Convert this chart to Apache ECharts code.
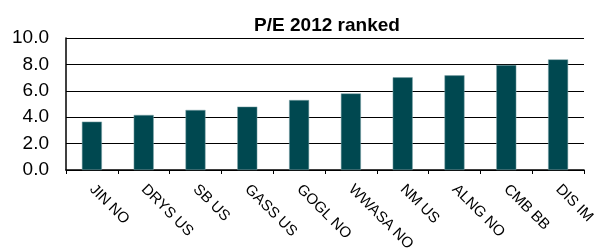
<!DOCTYPE html>
<html>
<head>
<meta charset="utf-8">
<script src="https://cdn.jsdelivr.net/npm/echarts@6/dist/echarts.min.js"></script>
<style>
  html, body { margin: 0; padding: 0; background: #fff; }
  #chart { width: 596px; height: 248px; }
</style>
</head>
<body>
<div id="chart"></div>
<script>
'use strict'

const categories = ['JIN NO', 'DRYS US', 'SB US', 'GASS US', 'GOGL NO', 'WWASA NO', 'NM US', 'ALNG NO', 'CMB BB', 'DIS IM']
const peValues = [3.66, 4.17, 4.55, 4.8, 5.3, 5.8, 7.02, 7.17, 7.95, 8.38]

const chart = echarts.init(document.getElementById('chart'))

const option = {
  animation: false,
  title: {
    text: 'P/E 2012 ranked',
    left: 322,
    top: 11,
    textAlign: 'center',
    textStyle: {
      fontFamily: 'Liberation Sans',
      fontSize: 19,
      fontWeight: 'bold',
      color: '#000'
    }
  },
  // labels run off the bottom edge in the original, so don't let the grid shrink
  grid: { left: 66, right: 12, top: 38, bottom: 78, outerBoundsMode: 'none' },
  xAxis: {
    type: 'category',
    data: categories,
    axisLine: { lineStyle: { color: '#000', width: 1.5 } },
    axisTick: { show: true, length: 4, lineStyle: { color: '#000', width: 1 } },
    axisLabel: {
      rotate: -45,
      interval: 0,
      margin: 17,
      fontFamily: 'Liberation Sans',
      fontSize: 15,
      color: '#000'
    }
  },
  yAxis: {
    type: 'value',
    min: 0,
    max: 10,
    interval: 2,
    axisLine: { show: true, lineStyle: { color: '#000', width: 1.5 } },
    axisTick: { show: false },
    splitLine: { lineStyle: { color: '#000', width: 1 } },
    axisLabel: {
      formatter: v => v.toFixed(1),
      margin: 17,
      fontFamily: 'Liberation Sans',
      fontSize: 19,
      color: '#000'
    }
  },
  series: [{
    type: 'bar',
    data: peValues,
    barWidth: 20,
    itemStyle: { color: '#004850', borderColor: '#7fa5a8', borderWidth: 0.5 }
  }]
}

chart.setOption(option)
</script>
</body>
</html>
